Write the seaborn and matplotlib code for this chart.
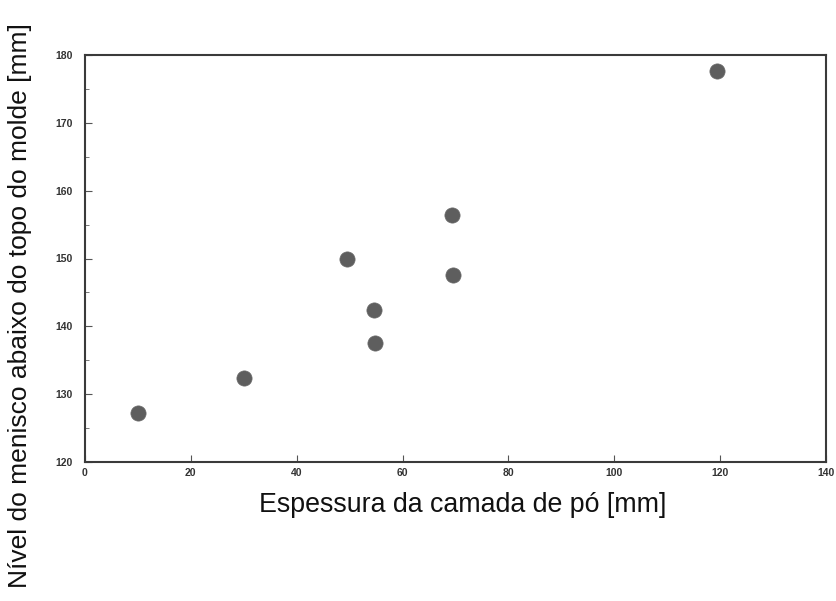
import matplotlib
matplotlib.use("Agg")
import matplotlib.pyplot as plt
import seaborn as sns
import pandas as pd
from matplotlib.ticker import MultipleLocator

espessura = [10, 30, 49.5, 54.6, 54.8, 69.3, 69.5, 119.4]
nivel = [127.2, 132.4, 149.9, 142.4, 137.6, 156.4, 147.6, 177.7]
x_ticks = [0, 20, 40, 60, 80, 100, 120, 140]
y_ticks = [120, 130, 140, 150, 160, 170, 180]

df = pd.DataFrame({"x": espessura, "y": nivel})

sns.set_style("white")
plt.rcParams['font.family'] = ['Liberation Sans', 'DejaVu Sans']

fig = plt.figure(figsize=(8.37, 6.01), dpi=100)
ax = fig.add_axes([85/837, 1 - 462/601, (826 - 85)/837, (462 - 55)/601])

sns.scatterplot(data=df, x="x", y="y", ax=ax, s=120, color="#5e5e5e",
                edgecolor="#6a6a6a", linewidth=0.5, zorder=3)

ax.set_xlim(0, 140)
ax.set_ylim(120, 180)
ax.set_xticks(x_ticks)
ax.set_yticks(y_ticks)
ax.yaxis.set_minor_locator(MultipleLocator(5))
ax.set_xticklabels([str(t) for t in x_ticks], fontsize=7.5, fontweight="bold", color="#333333")
ax.set_yticklabels([str(t) for t in y_ticks], fontsize=7.5, fontweight="bold", color="#333333")
ax.tick_params(axis="both", which="major", direction="in", length=5, width=0.8,
               color="#555555", bottom=True, left=True)
ax.tick_params(axis="y", which="minor", direction="in", length=3, width=0.7,
               color="#777777", left=True)
ax.tick_params(axis="x", pad=4)
ax.tick_params(axis="y", pad=9)

for sp in ax.spines.values():
    sp.set_visible(True)
    sp.set_color("#3a3a3a")
    sp.set_linewidth(1.5)

ax.set_xlabel("")
ax.set_ylabel("")
fig.text(463/837, 1 - 505/601, "Espessura da camada de pó [mm]", fontsize=19.3,
         ha="center", va="center", color="#111111")
fig.text(20/837, 1 - 306/601, "Nível do menisco abaixo do topo do molde [mm]", fontsize=19,
         ha="center", va="center", rotation=90, color="#111111")

fig.savefig("out.png", dpi=100)
